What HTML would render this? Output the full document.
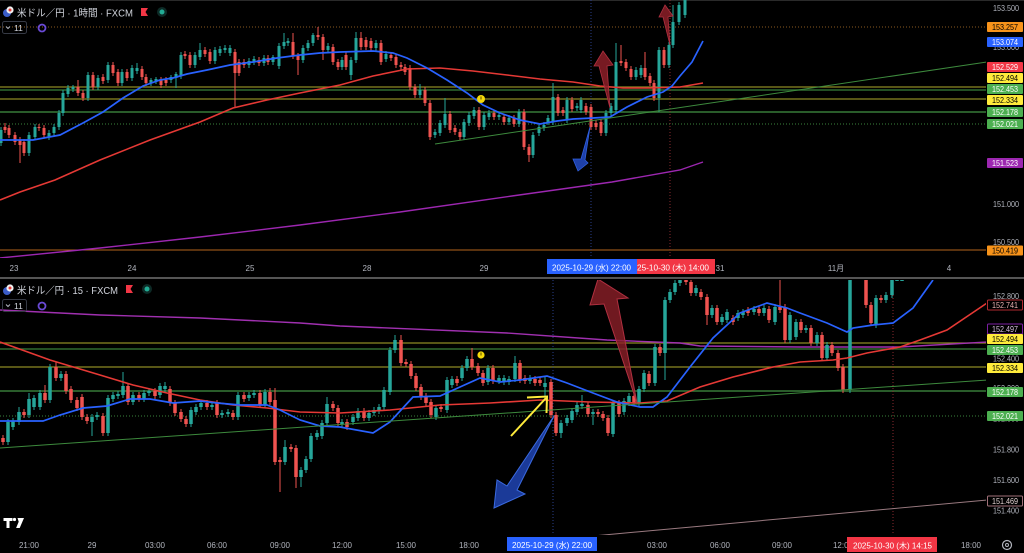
<!DOCTYPE html>
<html><head><meta charset="utf-8">
<style>
html,body{margin:0;padding:0;background:#000;width:1024px;height:553px;overflow:hidden;}
svg{display:block;}
text{font-family:"Liberation Sans","Noto Sans CJK JP",sans-serif;}
.ax{font-size:8px;fill:#b2b5be;text-anchor:middle;}
.pl{font-size:8px;fill:#b2b5be;text-anchor:middle;}
.bw{font-size:8px;fill:#ffffff;text-anchor:middle;}
.bk{font-size:8px;fill:#000000;text-anchor:middle;}
</style></head><body>
<svg width="1024" height="553" viewBox="0 0 1024 553" xmlns="http://www.w3.org/2000/svg">
<defs>
<clipPath id="ct"><rect x="0" y="0" width="986" height="258"/></clipPath>
<clipPath id="cb"><rect x="0" y="280" width="986" height="255"/></clipPath>
</defs>
<rect width="1024" height="553" fill="#000"/>
<rect x="0" y="0" width="1024" height="1" fill="#2a2a2a"/>

<!-- ============ TOP PANEL ============ -->
<g clip-path="url(#ct)">
  <!-- horizontal lines -->
  <line x1="0" y1="27" x2="987" y2="27" stroke="#8a5a20" stroke-width="1" stroke-dasharray="1 2"/>
  <line x1="0" y1="87" x2="987" y2="87" stroke="#8c8a24" stroke-width="1.3"/>
  <line x1="0" y1="90" x2="987" y2="90" stroke="#2f6a30" stroke-width="1.4"/>
  <line x1="0" y1="99" x2="987" y2="99" stroke="#8c8a24" stroke-width="1.3"/>
  <line x1="0" y1="112" x2="987" y2="112" stroke="#2f6a30" stroke-width="1.8"/>
  <line x1="0" y1="124" x2="987" y2="124" stroke="#2f6a30" stroke-width="1.2" stroke-dasharray="1 2"/>
  <line x1="0" y1="250" x2="987" y2="250" stroke="#b5651d" stroke-width="1"/>
  <!-- vertical dotted -->
  <line x1="591" y1="0" x2="591" y2="258" stroke="#2a3f8a" stroke-width="1" stroke-dasharray="1 2"/>
  <line x1="670" y1="0" x2="670" y2="258" stroke="#8a2a30" stroke-width="1" stroke-dasharray="1 2"/>
  <!-- purple MA -->
  <polyline fill="none" stroke="#9c27b0" stroke-width="1.4" points="0,258 100,248 200,237 300,225 400,212 512,196 612,182 680,170 703,162"/>
  <!-- wicks -->
  <path fill="none" stroke="#26a69a" stroke-width="1" d="M1 127V146 M29 132V156 M35 124V140 M49 130V140 M54 124V136 M59 110V130 M63 90V116 M68 85V97 M73 85V92 M88 72V101 M98 75V90 M108 62V83 M122 69V86 M132 65V81 M137 63V74 M151 78V86 M156 77V84 M171 75V83 M176 72V88 M181 52V79 M195 52V68 M200 43V60 M215 47V64 M220 46V56 M225 45V53 M230 45V56 M249 58V68 M254 56V65 M264 55V66 M273 55V65 M279 43V69 M284 33V49 M288 38V46 M303 45V63 M308 40V51 M313 33V46 M328 43V53 M342 57V70 M351 57V80 M356 32V63 M376 40V51 M386 51V62 M420 84V98 M435 129V138 M440 120V136 M445 98V128 M464 119V140 M469 112V126 M474 107V119 M484 112V130 M489 110V120 M499 112V120 M509 115V125 M519 109V127 M533 132V158 M539 124V136 M544 122V131 M548 115V125 M553 83V125 M567 97V123 M577 103V111 M581 97V113 M606 110V136 M611 103V116 M616 43V113 M636 67V80 M641 65V78 M659 47V112 M669 42V68 M673 5V48 M679 2V25 M685 0V18"/>
  <path fill="none" stroke="#ef5350" stroke-width="1" d="M5 123V133 M9 125V138 M15 132V145 M20 137V163 M24 139V156 M39 124V131 M44 125V138 M78 80V96 M83 90V101 M93 72V90 M103 74V84 M113 62V76 M118 69V86 M127 69V81 M142 66V80 M146 74V86 M161 77V88 M166 77V86 M185 51V59 M190 52V68 M205 47V57 M210 49V64 M235 49V108 M239 59V76 M244 59V68 M259 57V66 M268 55V65 M293 33V59 M298 53V75 M318 27V40 M323 34V60 M333 44V65 M338 59V70 M346 52V70 M361 32V50 M366 37V50 M371 38V51 M381 40V65 M391 52V61 M396 54V68 M401 62V70 M405 64V75 M410 65V90 M415 84V98 M425 87V106 M430 100V140 M450 111V133 M455 125V135 M460 129V140 M479 107V130 M494 110V120 M504 114V125 M514 115V127 M524 109V150 M529 144V162 M558 94V116 M563 107V116 M572 97V112 M586 103V115 M591 104V130 M596 120V130 M601 119V136 M621 45V66 M626 59V71 M631 66V80 M645 52V80 M650 73V86 M654 80V101 M664 47V68"/>
  <!-- bodies -->
  <path fill="none" stroke="#26a69a" stroke-width="3" d="M1 130V143 M29 135V153 M35 127V137 M49 133V137 M54 127V133 M59 113V127 M63 93V113 M68 88V94 M73 87V89 M88 75V98 M98 78V87 M108 65V80 M122 72V83 M132 68V78 M137 68V71 M151 80V83 M156 79V81 M171 77V80 M176 74V78 M181 55V76 M195 55V65 M200 50V57 M215 50V61 M220 49V53 M225 48V50 M230 48V53 M249 61V65 M254 59V62 M264 58V63 M273 57V62 M279 46V66 M284 42V46 M288 41V43 M303 48V60 M308 43V48 M313 35V43 M328 46V50 M342 60V67 M351 60V75 M356 38V60 M376 43V48 M386 54V59 M420 90V95 M435 132V135 M440 123V133 M445 114V125 M464 122V137 M469 115V123 M474 110V116 M484 115V127 M489 113V117 M499 115V117 M509 118V122 M519 112V124 M533 135V155 M539 127V133 M544 125V128 M548 118V122 M553 97V122 M567 100V120 M577 106V108 M581 100V110 M606 113V133 M611 106V113 M616 62V110 M636 70V77 M641 68V75 M659 50V98 M669 45V65 M673 22V45 M679 5V22 M685 0V15"/>
  <path fill="none" stroke="#ef5350" stroke-width="3" d="M5 127V130 M9 128V135 M15 135V142 M20 140V145 M24 142V153 M39 127V128 M44 128V135 M78 87V93 M83 93V98 M93 75V87 M103 77V81 M113 65V73 M118 72V83 M127 72V78 M142 69V77 M146 77V83 M161 80V85 M166 80V83 M185 54V56 M190 55V65 M205 50V54 M210 52V61 M235 52V73 M239 62V73 M244 62V65 M259 60V63 M268 58V62 M293 42V56 M298 56V60 M318 35V37 M323 37V50 M333 47V62 M338 62V67 M346 55V67 M361 38V47 M366 40V47 M371 41V48 M381 43V62 M391 55V58 M396 57V65 M401 65V67 M405 67V72 M410 68V87 M415 87V95 M425 90V103 M430 103V137 M450 114V130 M455 128V132 M460 132V137 M479 110V127 M494 113V117 M504 117V122 M514 118V124 M524 112V147 M529 147V155 M558 97V113 M563 110V113 M572 100V109 M586 106V112 M591 107V127 M596 123V127 M601 122V133 M621 61V63 M626 62V68 M631 69V77 M645 68V77 M650 76V83 M654 83V98 M664 50V65"/>
  <!-- MAs -->
  <polyline fill="none" stroke="#e53935" stroke-width="1.6" points="0,200 20,192 55,180 100,160 150,140 200,122 233,108 267,100 300,93 340,85 373,76 407,69 440,68 473,71 507,75 540,79 573,82 600,86 623,88 650,88 680,87 703,83"/>
  <polyline fill="none" stroke="#2962ff" stroke-width="1.7" points="0,140 33,140 60,135 83,123 103,112 123,98 143,86 160,80 173,78 187,74 207,70 230,65 253,62 277,58 300,55 320,53 340,52 373,51 393,53 407,58 427,68 447,80 467,93 483,105 500,113 520,120 540,124 557,121 573,119 593,118 610,117 627,107 647,97 663,92 672,86 680,76 692,62 703,41"/>
  <!-- trendline -->
  <line x1="435" y1="144" x2="987" y2="62" stroke="#3d8a3d" stroke-width="1"/>
  <!-- alarm icon -->
  <circle cx="481" cy="99" r="4" fill="#f5d90a"/>
  <rect x="480.5" y="96.5" width="1" height="3" fill="#5a4a00"/>
  <!-- arrows -->
  <polygon points="603,51 613,65 607,66 610,108 599,66 594,66" fill="#8c1f28" fill-opacity="0.85" stroke="#b03040" stroke-width="0.8"/>
  <polygon points="665,5 673,16 668,17 670,45 663,17 659,17" fill="#8c1f28" fill-opacity="0.85" stroke="#b03040" stroke-width="0.8"/>
  <polygon points="590,127 585,160 588,163 578,171 573,159 581,159" fill="#1e40a8" stroke="#3060e0" stroke-width="0.8"/>
</g>

<!-- top price axis -->
<text class="pl" x="1006" y="11" textLength="26" lengthAdjust="spacingAndGlyphs">153.500</text>
<text class="pl" x="1006" y="50" textLength="26" lengthAdjust="spacingAndGlyphs">153.000</text>
<rect x="987" y="22" width="36" height="10" rx="1" fill="#f7931a"/>
<text class="bk" x="1005" y="30" textLength="26" lengthAdjust="spacingAndGlyphs">153.257</text>
<rect x="987" y="37" width="36" height="10" rx="1" fill="#2962ff"/>
<text class="bw" x="1005" y="45" textLength="26" lengthAdjust="spacingAndGlyphs">153.074</text>
<rect x="987" y="62" width="36" height="10" rx="1" fill="#f23645"/>
<text class="bw" x="1005" y="70" textLength="26" lengthAdjust="spacingAndGlyphs">152.529</text>
<rect x="987" y="73" width="36" height="10" rx="1" fill="#ffeb3b"/>
<text class="bk" x="1005" y="81" textLength="26" lengthAdjust="spacingAndGlyphs">152.494</text>
<rect x="987" y="84" width="36" height="10" rx="1" fill="#4caf50"/>
<text class="bw" x="1005" y="92" textLength="26" lengthAdjust="spacingAndGlyphs">152.453</text>
<rect x="987" y="95" width="36" height="10" rx="1" fill="#ffeb3b"/>
<text class="bk" x="1005" y="103" textLength="26" lengthAdjust="spacingAndGlyphs">152.334</text>
<rect x="987" y="107" width="36" height="10" rx="1" fill="#4caf50"/>
<text class="bw" x="1005" y="115" textLength="26" lengthAdjust="spacingAndGlyphs">152.178</text>
<rect x="987" y="119" width="36" height="10" rx="1" fill="#4caf50"/>
<text class="bw" x="1005" y="127" textLength="26" lengthAdjust="spacingAndGlyphs">152.021</text>
<rect x="987" y="158" width="36" height="10" rx="1" fill="#9c27b0"/>
<text class="bw" x="1005" y="166" textLength="26" lengthAdjust="spacingAndGlyphs">151.523</text>
<text class="pl" x="1006" y="207" textLength="26" lengthAdjust="spacingAndGlyphs">151.000</text>
<text class="pl" x="1006" y="245" textLength="26" lengthAdjust="spacingAndGlyphs">150.500</text>
<rect x="987" y="245.5" width="36" height="10" rx="1" fill="#f7931a"/>
<text class="bk" x="1005" y="253.5" textLength="26" lengthAdjust="spacingAndGlyphs">150.419</text>

<!-- top time axis -->
<text class="ax" x="14" y="271">23</text>
<text class="ax" x="132" y="271">24</text>
<text class="ax" x="250" y="271">25</text>
<text class="ax" x="367" y="271">28</text>
<text class="ax" x="484" y="271">29</text>
<text class="ax" x="720" y="271">31</text>
<text class="ax" x="836" y="271">11月</text>
<text class="ax" x="949" y="271">4</text>
<rect x="547" y="259" width="90" height="15" fill="#2962ff"/>
<text x="552" y="270.5" font-size="8" fill="#fff" textLength="79" lengthAdjust="spacingAndGlyphs">2025-10-29 (水)   22:00</text>
<rect x="637" y="259" width="78" height="15" fill="#f23645"/>
<text x="637" y="270.5" font-size="8" fill="#fff" textLength="72" lengthAdjust="spacingAndGlyphs">25-10-30 (木)   14:00</text>

<!-- top legend -->
<circle cx="7" cy="13" r="4" fill="#3a5cc8"/>
<circle cx="10" cy="10" r="3.6" fill="#f0f0f0"/>
<circle cx="10" cy="10" r="1.5" fill="#e53935"/>
<text x="17" y="16.5" font-size="10" fill="#d1d4dc" textLength="116" lengthAdjust="spacingAndGlyphs">米ドル／円 · 1時間 · FXCM</text>
<path d="M141 8h7l-2.5 4l2.5 4h-7z" fill="#f23645"/>
<circle cx="162" cy="12" r="5" fill="#0d2a26"/>
<circle cx="162" cy="12" r="2.5" fill="#22ab94"/>
<rect x="2.5" y="21.5" width="24" height="12" rx="2" fill="none" stroke="#363a45"/>
<path d="M6 26.5l2 2l2-2" fill="none" stroke="#b2b5be" stroke-width="1"/>
<text x="14" y="31" font-size="8.5" fill="#d1d4dc">11</text>
<circle cx="42" cy="28" r="3.5" fill="none" stroke="#6a4ad6" stroke-width="1.8"/>

<!-- divider -->
<rect x="0" y="277" width="1024" height="2" fill="#555"/>

<!-- ============ BOTTOM PANEL ============ -->
<g clip-path="url(#cb)">
  <line x1="0" y1="343" x2="987" y2="343" stroke="#8c8a24" stroke-width="1.3"/>
  <line x1="0" y1="349" x2="987" y2="349" stroke="#2f6a30" stroke-width="1.4"/>
  <line x1="0" y1="367" x2="987" y2="367" stroke="#8c8a24" stroke-width="1.3"/>
  <line x1="0" y1="391" x2="987" y2="391" stroke="#2f6a30" stroke-width="1.8"/>
  <line x1="0" y1="416" x2="987" y2="416" stroke="#2f6a30" stroke-width="1.2" stroke-dasharray="1 2"/>
  <line x1="553" y1="280" x2="553" y2="535" stroke="#2a3f8a" stroke-width="1" stroke-dasharray="1 2"/>
  <line x1="893" y1="280" x2="893" y2="535" stroke="#8a2a30" stroke-width="1" stroke-dasharray="1 2"/>
  <polyline fill="none" stroke="#a030b0" stroke-width="1.4" points="0,310 100,315 200,318 300,323 340,326 507,333 607,340 680,343 700,346 800,347 900,347 987,342"/>
  <line x1="560" y1="539" x2="987" y2="500" stroke="#9a7a80" stroke-width="1"/>
  <!-- wicks -->
  <path fill="none" stroke="#26a69a" stroke-width="1" d="M8 419V445 M13 418V430 M19 407V425 M29 393V418 M34 395V410 M40 390V410 M50 364V403 M61 371V381 M92 414V436 M97 412V420 M108 395V436 M113 392V402 M118 391V399 M123 372V398 M133 392V405 M144 390V402 M149 388V396 M160 383V398 M165 382V392 M191 407V427 M196 404V415 M201 400V410 M212 402V410 M222 410V418 M228 409V417 M238 392V420 M249 392V401 M254 390V398 M265 389V408 M285 440V465 M301 467V487 M306 456V473 M311 433V462 M317 430V440 M322 420V439 M327 397V426 M342 419V427 M353 414V425 M358 408V421 M369 410V421 M374 407V416 M379 404V414 M384 387V410 M390 347V395 M395 335V353 M436 405V420 M447 377V413 M452 376V388 M462 365V381 M467 356V371 M488 365V385 M499 375V384 M504 375V385 M509 376V385 M515 356V382 M530 375V384 M545 377V398 M561 420V438 M567 415V426 M572 408V423 M577 402V415 M582 395V409 M593 409V425 M613 400V437 M624 398V415 M629 393V406 M639 386V406 M644 370V392 M655 344V386 M665 297V380 M670 289V303 M675 280V295 M680 279V286 M696 285V296 M712 305V318 M722 314V325 M727 309V323 M738 310V321 M743 309V318 M754 306V315 M764 305V316 M775 304V325 M790 312V343 M796 319V340 M806 325V333 M817 332V346 M827 342V361 M850 279V393 M876 295V328 M886 292V303 M892 279V298"/>
  <path fill="none" stroke="#ef5350" stroke-width="1" d="M3 435V445 M24 409V418 M45 385V403 M56 362V381 M66 371V394 M71 386V403 M77 397V411 M82 394V420 M87 414V424 M103 413V436 M128 383V405 M139 392V402 M155 388V399 M170 386V406 M175 400V416 M181 409V422 M186 416V427 M207 400V410 M217 400V418 M233 410V420 M244 392V402 M260 390V408 M270 388V405 M275 388V465 M280 457V492 M291 444V452 M296 445V488 M333 401V411 M338 405V426 M347 419V430 M364 408V421 M401 335V366 M406 359V367 M411 361V379 M416 373V391 M421 384V400 M426 393V406 M431 399V418 M441 404V412 M457 376V386 M472 348V370 M478 363V376 M483 370V386 M493 365V384 M520 360V383 M525 375V384 M535 376V386 M540 377V386 M551 379V418 M556 412V436 M588 402V417 M598 409V417 M603 411V421 M608 415V436 M619 400V417 M634 393V406 M649 371V386 M660 344V356 M686 279V285 M691 279V296 M701 289V300 M707 294V325 M717 305V325 M733 315V325 M748 307V316 M759 306V316 M769 306V323 M780 279V313 M785 304V343 M801 319V333 M811 325V346 M822 332V361 M832 342V356 M838 350V371 M843 364V393 M866 279V308 M871 302V326 M881 295V303"/>
  <!-- bodies -->
  <path fill="none" stroke="#26a69a" stroke-width="3.5" d="M8 422V442 M13 421V427 M19 412V422 M29 399V415 M34 398V407 M40 393V407 M50 367V400 M61 374V378 M92 417V422 M97 415V417 M108 398V433 M113 395V399 M118 394V396 M123 386V395 M133 395V402 M144 393V399 M149 391V393 M160 386V395 M165 386V389 M191 410V424 M196 407V412 M201 403V407 M212 405V407 M222 413V415 M228 412V414 M238 395V417 M249 395V398 M254 393V395 M265 392V405 M285 447V462 M301 470V477 M306 459V470 M311 436V459 M317 433V437 M322 423V436 M327 404V423 M342 422V424 M353 417V422 M358 411V418 M369 413V418 M374 410V413 M379 407V411 M384 390V407 M390 350V392 M395 340V350 M436 408V417 M447 380V410 M452 379V385 M462 368V378 M467 359V368 M488 368V382 M499 378V381 M504 378V382 M509 379V382 M515 363V379 M530 378V381 M545 383V387 M561 423V433 M567 418V423 M572 411V420 M577 405V412 M582 404V406 M593 412V414 M613 403V434 M624 401V412 M629 396V403 M639 389V403 M644 373V389 M655 347V383 M665 300V353 M670 292V300 M675 283V292 M680 279V283 M696 288V293 M712 308V315 M722 317V322 M727 312V320 M738 313V318 M743 312V315 M754 309V312 M764 308V313 M775 307V322 M790 315V340 M796 322V337 M806 328V330 M817 335V343 M827 345V358 M850 279V390 M876 298V325 M886 295V300 M892 279V295 M897 279V281 M902 279V281"/>
  <path fill="none" stroke="#ef5350" stroke-width="3.5" d="M3 438V442 M24 412V415 M45 393V400 M56 367V378 M66 374V391 M71 389V400 M77 400V408 M82 397V417 M87 417V421 M103 416V433 M128 386V402 M139 395V399 M155 391V396 M170 389V403 M175 403V413 M181 412V419 M186 419V424 M207 403V407 M217 403V415 M233 413V417 M244 395V399 M260 393V405 M270 392V402 M275 400V462 M280 460V462 M291 447V449 M296 448V477 M333 404V408 M338 408V423 M347 422V427 M364 411V418 M401 340V363 M406 362V364 M411 364V376 M416 376V388 M421 387V397 M426 396V403 M431 402V415 M441 407V409 M457 379V383 M472 359V367 M478 366V373 M483 373V383 M493 368V381 M520 363V380 M525 378V381 M535 379V383 M540 380V383 M551 382V415 M556 415V433 M588 405V414 M598 412V414 M603 414V418 M608 418V433 M619 403V414 M634 396V403 M649 374V383 M660 347V353 M686 279V282 M691 282V293 M701 292V297 M707 297V315 M717 308V322 M733 318V322 M748 310V313 M759 309V313 M769 309V320 M780 307V310 M785 307V340 M801 322V330 M811 328V343 M822 335V358 M832 345V353 M838 353V368 M843 367V390 M866 279V305 M871 305V323 M881 298V300"/>
  <!-- MAs -->
  <polyline fill="none" stroke="#e53935" stroke-width="1.6" points="0,342 50,360 100,375 133,385 167,393 200,400 233,405 267,408 300,412 340,413 390,410 440,405 490,403 540,400 590,402 640,403 667,401 700,387 733,377 773,367 800,362 833,360 847,358 867,353 900,347 920,340 947,330 987,303"/>
  <polyline fill="none" stroke="#2962ff" stroke-width="1.7" points="0,421 43,421 60,415 83,408 107,406 130,399 150,399 173,403 200,401 217,403 240,405 267,405 280,410 300,420 320,426 340,427 373,433 390,422 413,397 440,396 460,387 480,378 500,382 520,380 547,376 567,383 593,393 617,402 640,407 653,407 667,397 690,367 713,338 740,313 767,303 787,308 800,313 827,323 847,332 853,328 873,325 893,323 913,308 933,280"/>
  <line x1="0" y1="448" x2="987" y2="380" stroke="#3d8a3d" stroke-width="1"/>
  <!-- alarm -->
  <circle cx="481" cy="355" r="3.6" fill="#f5d90a"/>
  <rect x="480.5" y="352.5" width="1" height="3" fill="#5a4a00"/>
  <!-- arrows -->
  <polygon points="598,279 628,298 617,299 637,403 604,304 590,305" fill="#8c1f28" fill-opacity="0.8" stroke="#b03040" stroke-width="1"/>
  <polygon points="554,416 517,490 525,494 494,508 497,480 507,486" fill="#1e40a8" fill-opacity="0.9" stroke="#3a6ae0" stroke-width="1"/>
  <polyline points="511,436 546,398" fill="none" stroke="#ffeb3b" stroke-width="2"/>
  <polyline points="527,397.5 547,396.5 546.5,413" fill="none" stroke="#ffeb3b" stroke-width="2"/>
</g>

<!-- bottom price axis -->
<text class="pl" x="1006" y="299" textLength="26" lengthAdjust="spacingAndGlyphs">152.800</text>
<rect x="987.5" y="300" width="35" height="10" rx="1" fill="#000" stroke="#b02a30"/>
<text x="1005" y="308" font-size="8" fill="#e8b0b0" text-anchor="middle" textLength="26" lengthAdjust="spacingAndGlyphs">152.741</text>
<rect x="987.5" y="324" width="35" height="10" rx="1" fill="#000" stroke="#7b1fa2"/>
<text x="1005" y="332" font-size="8" fill="#d8c0e0" text-anchor="middle" textLength="26" lengthAdjust="spacingAndGlyphs">152.497</text>
<rect x="987" y="334" width="36" height="10" rx="1" fill="#ffeb3b"/>
<text class="bk" x="1005" y="342" textLength="26" lengthAdjust="spacingAndGlyphs">152.494</text>
<rect x="987" y="345" width="36" height="10" rx="1" fill="#4caf50"/>
<text class="bw" x="1005" y="353" textLength="26" lengthAdjust="spacingAndGlyphs">152.453</text>
<text class="pl" x="1006" y="361.5" textLength="26" lengthAdjust="spacingAndGlyphs">152.400</text>
<rect x="987" y="363" width="36" height="10" rx="1" fill="#ffeb3b"/>
<text class="bk" x="1005" y="371" textLength="26" lengthAdjust="spacingAndGlyphs">152.334</text>
<text class="pl" x="1006" y="391" textLength="26" lengthAdjust="spacingAndGlyphs">152.200</text>
<rect x="987" y="387" width="36" height="10" rx="1" fill="#4caf50"/>
<text class="bw" x="1005" y="395" textLength="26" lengthAdjust="spacingAndGlyphs">152.178</text>
<text class="pl" x="1006" y="421.5" textLength="26" lengthAdjust="spacingAndGlyphs">152.000</text>
<rect x="987" y="411" width="36" height="10" rx="1" fill="#4caf50"/>
<text class="bw" x="1005" y="419" textLength="26" lengthAdjust="spacingAndGlyphs">152.021</text>
<text class="pl" x="1006" y="452.5" textLength="26" lengthAdjust="spacingAndGlyphs">151.800</text>
<text class="pl" x="1006" y="483" textLength="26" lengthAdjust="spacingAndGlyphs">151.600</text>
<rect x="987.5" y="496" width="35" height="10" rx="1" fill="#000" stroke="#a07078"/>
<text x="1005" y="504" font-size="8" fill="#e0d0d0" text-anchor="middle" textLength="26" lengthAdjust="spacingAndGlyphs">151.469</text>
<text class="pl" x="1006" y="513.5" textLength="26" lengthAdjust="spacingAndGlyphs">151.400</text>

<!-- bottom time axis -->
<text class="ax" x="29" y="548">21:00</text>
<text class="ax" x="92" y="548">29</text>
<text class="ax" x="155" y="548">03:00</text>
<text class="ax" x="217" y="548">06:00</text>
<text class="ax" x="280" y="548">09:00</text>
<text class="ax" x="342" y="548">12:00</text>
<text class="ax" x="406" y="548">15:00</text>
<text class="ax" x="469" y="548">18:00</text>
<text class="ax" x="657" y="548">03:00</text>
<text class="ax" x="720" y="548">06:00</text>
<text class="ax" x="782" y="548">09:00</text>
<text class="ax" x="843" y="548">12:00</text>
<text class="ax" x="971" y="548">18:00</text>
<rect x="507" y="537" width="90" height="14" fill="#2962ff"/>
<text x="512" y="548" font-size="8" fill="#fff" textLength="80" lengthAdjust="spacingAndGlyphs">2025-10-29 (水)   22:00</text>
<rect x="847" y="537" width="90" height="15" fill="#f23645"/>
<text x="853" y="548.5" font-size="8" fill="#fff" textLength="79" lengthAdjust="spacingAndGlyphs">2025-10-30 (木)   14:15</text>
<circle cx="1007" cy="545" r="4.5" fill="none" stroke="#b2b5be" stroke-width="1.2"/>
<circle cx="1007" cy="545" r="1.5" fill="none" stroke="#b2b5be" stroke-width="1"/>

<!-- bottom legend -->
<circle cx="7" cy="291" r="4" fill="#3a5cc8"/>
<circle cx="10" cy="288" r="3.6" fill="#f0f0f0"/>
<circle cx="10" cy="288" r="1.5" fill="#e53935"/>
<text x="17" y="294" font-size="10" fill="#d1d4dc" textLength="101" lengthAdjust="spacingAndGlyphs">米ドル／円 · 15 · FXCM</text>
<path d="M126 285h7l-2.5 4l2.5 4h-7z" fill="#f23645"/>
<circle cx="147" cy="289" r="5" fill="#0d2a26"/>
<circle cx="147" cy="289" r="2.5" fill="#22ab94"/>
<rect x="2.5" y="299.5" width="24" height="12" rx="2" fill="none" stroke="#363a45"/>
<path d="M6 304.5l2 2l2-2" fill="none" stroke="#b2b5be" stroke-width="1"/>
<text x="14" y="309" font-size="8.5" fill="#d1d4dc">11</text>
<circle cx="42" cy="306" r="3.5" fill="none" stroke="#6a4ad6" stroke-width="1.8"/>

<!-- TV logo -->
<path d="M3.5 518h9v3h-3v7h-3v-7h-3z" fill="#fff"/>
<circle cx="14.5" cy="519.5" r="1.6" fill="#fff"/>
<path d="M17.5 518h6.5l-4.3 10h-3.6l2.6-6.2z" fill="#fff"/>
</svg>
</body></html>
